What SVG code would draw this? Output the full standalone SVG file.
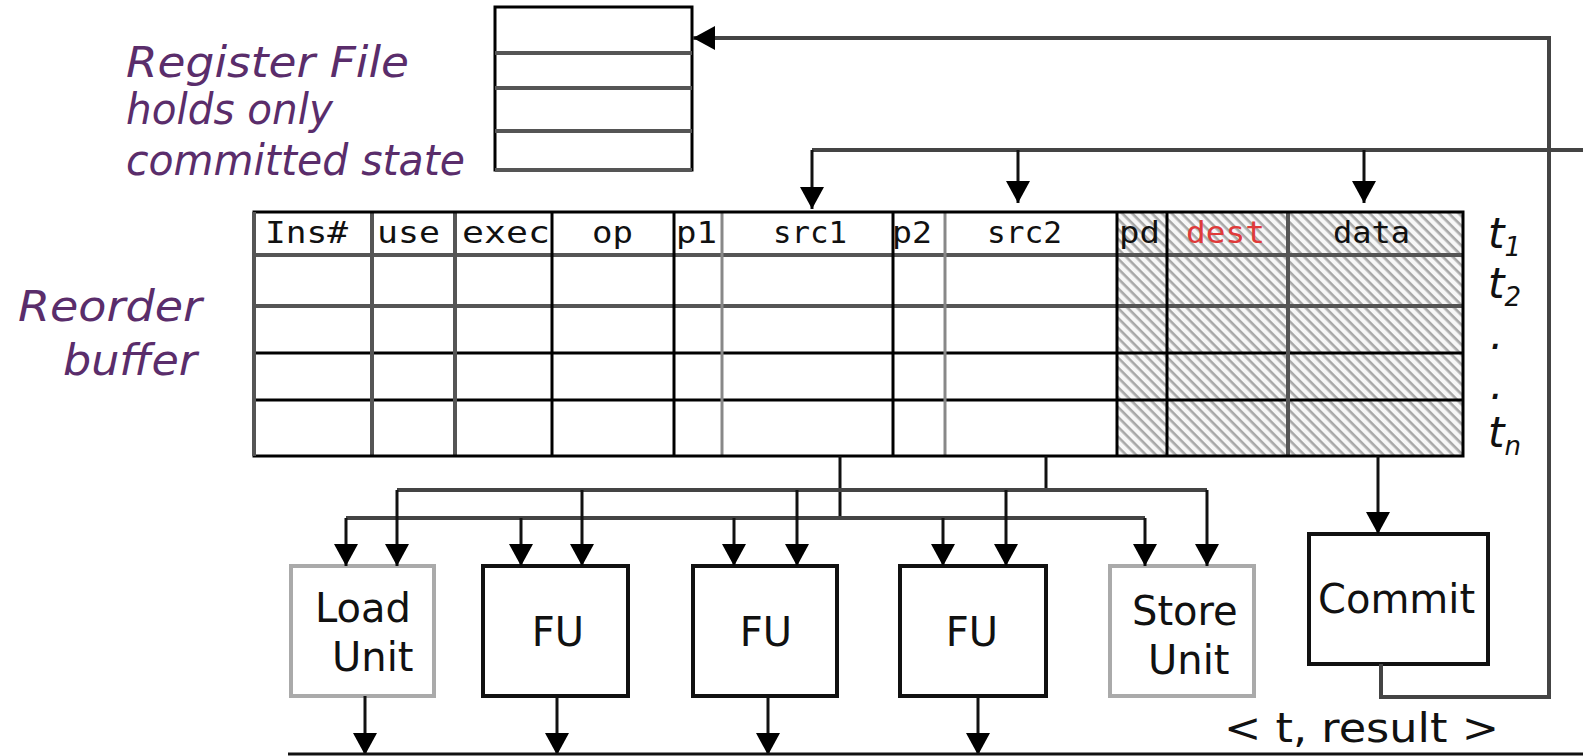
<svg xmlns="http://www.w3.org/2000/svg" width="1583" height="756" viewBox="0 0 1583 756">
<style>
.lbl{font-family:"DejaVu Sans","Verdana",sans-serif;font-style:italic;fill:#5a2d6b;font-size:42px}
.hdr{font-family:"DejaVu Sans Mono","Liberation Mono",monospace;font-size:31px;fill:#111}
.unit{font-family:"DejaVu Sans","Verdana",sans-serif;font-size:40px;fill:#111}
.tl{font-family:"DejaVu Sans","Verdana",sans-serif;font-style:italic;font-size:42px;fill:#111}
.box{fill:#fff;stroke:#111;stroke-width:4}
.gbox{fill:#fff;stroke:#aaa;stroke-width:4}
.bus{fill:none;stroke:#444;stroke-width:4}
.wire{fill:none;stroke:#111;stroke-width:3}
.arr{marker-end:url(#ah)}
.tb{stroke:#000;stroke-width:3}
.tg{stroke:#555;stroke-width:4}
.tl2{stroke:#888;stroke-width:3}
</style>
<defs>
<marker id="ah" viewBox="0 0 22 24" refX="22" refY="12" markerWidth="22" markerHeight="24" markerUnits="userSpaceOnUse" orient="auto">
<path d="M0,0 L22,12 L0,24 Z" fill="#000"/>
</marker>
<pattern id="hatch" width="7" height="7" patternUnits="userSpaceOnUse" patternTransform="rotate(45)">
<rect width="7" height="7" fill="#f7f7f7"/>
<rect width="7" height="2.6" fill="#a8a8a8"/>
</pattern>
</defs>
<rect width="1583" height="756" fill="#fff"/>

<g id="register-file-label">
<text class="lbl" x="126" y="77" textLength="283" lengthAdjust="spacingAndGlyphs">Register File</text>
<text class="lbl" x="126" y="124" textLength="207" lengthAdjust="spacingAndGlyphs">holds only</text>
<text class="lbl" x="126" y="175" textLength="339" lengthAdjust="spacingAndGlyphs">committed state</text>
</g>

<g id="register-file">
<rect x="495" y="7" width="197" height="163" fill="#fff" stroke="#000" stroke-width="3"/>
<line x1="495" y1="53" x2="692" y2="53" class="tg"/>
<line x1="495" y1="88" x2="692" y2="88" class="tg"/>
<line x1="495" y1="131" x2="692" y2="131" class="tg"/>
<line x1="495" y1="170" x2="692" y2="170" class="tg"/>
</g>

<g id="reorder-buffer-label">
<text class="lbl" x="18" y="321" textLength="184" lengthAdjust="spacingAndGlyphs">Reorder</text>
<text class="lbl" x="63" y="375" textLength="134" lengthAdjust="spacingAndGlyphs">buffer</text>
</g>

<g id="reorder-buffer">
<rect x="254" y="212" width="863" height="244" fill="#fff"/>
<rect x="1117" y="212" width="346" height="244" fill="url(#hatch)"/>
<line x1="254" y1="255" x2="1463" y2="255" class="tg"/>
<line x1="254" y1="306" x2="1463" y2="306" class="tg"/>
<line x1="254" y1="353" x2="1463" y2="353" class="tb"/>
<line x1="254" y1="400" x2="1463" y2="400" class="tb"/>
<line x1="372" y1="212" x2="372" y2="456" class="tg"/>
<line x1="455" y1="212" x2="455" y2="456" class="tg"/>
<line x1="552" y1="212" x2="552" y2="456" class="tb"/>
<line x1="674" y1="212" x2="674" y2="456" class="tb"/>
<line x1="722" y1="212" x2="722" y2="456" class="tl2"/>
<line x1="893" y1="212" x2="893" y2="456" class="tb"/>
<line x1="945" y1="212" x2="945" y2="456" class="tl2"/>
<line x1="1117" y1="212" x2="1117" y2="456" class="tb"/>
<line x1="1167" y1="212" x2="1167" y2="456" class="tb"/>
<line x1="1288" y1="212" x2="1288" y2="456" class="tg"/>
<rect x="254" y="212" width="1209" height="244" fill="none" stroke="#000" stroke-width="3"/>
<line x1="254" y1="212" x2="254" y2="456" class="tg"/>
<text class="hdr" x="265" y="243" textLength="83" lengthAdjust="spacingAndGlyphs">Ins#</text>
<text class="hdr" x="377" y="243" textLength="63" lengthAdjust="spacingAndGlyphs">use</text>
<text class="hdr" x="462" y="243" textLength="88" lengthAdjust="spacingAndGlyphs">exec</text>
<text class="hdr" x="592" y="243" textLength="41" lengthAdjust="spacingAndGlyphs">op</text>
<text class="hdr" x="676" y="243" textLength="41" lengthAdjust="spacingAndGlyphs">p1</text>
<text class="hdr" x="773" y="243" textLength="74" lengthAdjust="spacingAndGlyphs">src1</text>
<text class="hdr" x="892" y="243" textLength="40" lengthAdjust="spacingAndGlyphs">p2</text>
<text class="hdr" x="987" y="243" textLength="75" lengthAdjust="spacingAndGlyphs">src2</text>
<text class="hdr" x="1119" y="243" textLength="41" lengthAdjust="spacingAndGlyphs">pd</text>
<text class="hdr" x="1186" y="243" textLength="79" lengthAdjust="spacingAndGlyphs" style="fill:#e03a3a">dest</text>
<text class="hdr" x="1333" y="243" textLength="77" lengthAdjust="spacingAndGlyphs">data</text>
</g>

<g id="row-tags">
<text class="tl" x="1488" y="248">t<tspan font-size="26" dy="8">1</tspan></text>
<text class="tl" x="1488" y="298">t<tspan font-size="26" dy="8">2</tspan></text>
<text class="tl" x="1490" y="349">.</text>
<text class="tl" x="1490" y="399">.</text>
<text class="tl" x="1488" y="447">t<tspan font-size="26" dy="8">n</tspan></text>
</g>

<g id="load-unit">
<rect class="gbox" x="291" y="566" width="143" height="130"/>
<text class="unit" x="315" y="622">Load</text>
<text class="unit" x="332" y="671">Unit</text>
</g>
<g id="fu-1">
<rect class="box" x="483" y="566" width="145" height="130"/>
<text class="unit" x="558" y="646" text-anchor="middle">FU</text>
</g>
<g id="fu-2">
<rect class="box" x="693" y="566" width="144" height="130"/>
<text class="unit" x="766" y="646" text-anchor="middle">FU</text>
</g>
<g id="fu-3">
<rect class="box" x="900" y="566" width="146" height="130"/>
<text class="unit" x="972" y="646" text-anchor="middle">FU</text>
</g>
<g id="store-unit">
<rect class="gbox" x="1110" y="566" width="144" height="130"/>
<text class="unit" x="1132" y="625">Store</text>
<text class="unit" x="1148" y="674">Unit</text>
</g>
<g id="commit">
<rect class="box" x="1309" y="534" width="179" height="130"/>
<text class="unit" x="1318" y="613">Commit</text>
</g>
<g id="result-label">
<text class="unit" x="1224" y="742" font-size="38" textLength="275" lengthAdjust="spacingAndGlyphs">&lt; t, result &gt;</text>
</g>

<g id="connectors">
<path class="bus arr" d="M1381,664 V697 H1549 V38 H693"/>
<path class="bus" d="M1583,150 H812"/>
<path class="wire arr" d="M812,150 V209"/>
<path class="wire arr" d="M1018,150 V203"/>
<path class="wire arr" d="M1364,150 V203"/>
<path class="wire" d="M840,456 V518"/>
<path class="wire" d="M1046,456 V490"/>
<path class="bus" d="M346,518 H1145"/>
<path class="bus" d="M397,490 H1207"/>
<path class="wire arr" d="M346,518 V566"/>
<path class="wire arr" d="M521,518 V566"/>
<path class="wire arr" d="M734,518 V566"/>
<path class="wire arr" d="M943,518 V566"/>
<path class="wire arr" d="M1145,518 V566"/>
<path class="wire arr" d="M397,490 V566"/>
<path class="wire arr" d="M582,490 V566"/>
<path class="wire arr" d="M797,490 V566"/>
<path class="wire arr" d="M1006,490 V566"/>
<path class="wire arr" d="M1207,490 V566"/>
<path class="wire arr" d="M1378,456 V534"/>
<path class="wire arr" d="M365,696 V755"/>
<path class="wire arr" d="M557,696 V755"/>
<path class="wire arr" d="M768,696 V755"/>
<path class="wire arr" d="M978,696 V755"/>
<path class="wire" d="M288,754 H1583"/>
</g>
</svg>
